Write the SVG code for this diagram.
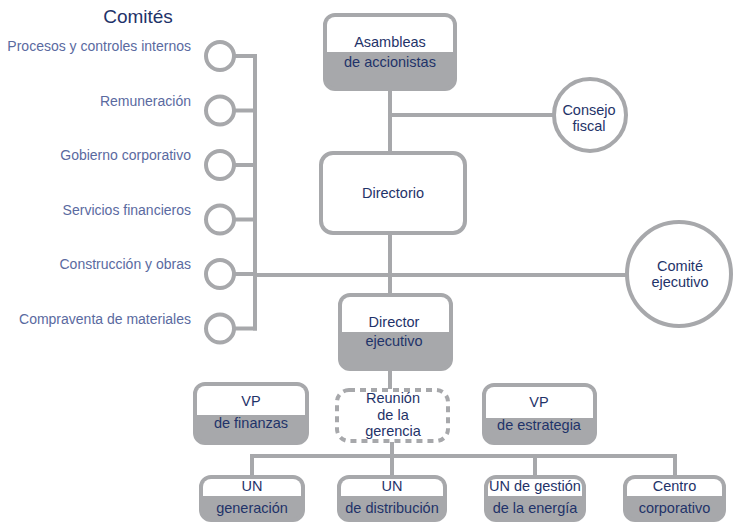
<svg xmlns="http://www.w3.org/2000/svg" width="734" height="524" viewBox="0 0 734 524">
<style>
.ln{stroke:#a7a8ab;stroke-width:4;fill:none}
.bx{stroke:#a7a8ab;stroke-width:4;fill:#a7a8ab}
.wb{stroke:#a7a8ab;stroke-width:4;fill:#ffffff}
.wf{fill:#ffffff}
.t{font-family:"Liberation Sans",Arial,sans-serif;font-size:14.5px;fill:#1f3369;text-anchor:middle}
.c{font-family:"Liberation Sans",Arial,sans-serif;font-size:14px;fill:#5a6a9f;text-anchor:end}
.h{font-family:"Liberation Sans",Arial,sans-serif;font-size:19px;fill:#1f3369;text-anchor:middle}
.dash{stroke:#a7a8ab;stroke-width:4;fill:#ffffff;stroke-dasharray:6 5}
</style>
<g id="connectors">
<line class="ln" x1="390" y1="90" x2="390" y2="153"/>
<line class="ln" x1="390" y1="115" x2="555" y2="115"/>
<line class="ln" x1="390" y1="234" x2="390" y2="294"/>
<line class="ln" x1="255" y1="275" x2="628" y2="275"/>
<line class="ln" x1="255" y1="54" x2="255" y2="330.5"/>
<line class="ln" x1="234" y1="56" x2="257" y2="56"/>
<line class="ln" x1="234" y1="110.5" x2="257" y2="110.5"/>
<line class="ln" x1="234" y1="165" x2="257" y2="165"/>
<line class="ln" x1="234" y1="219.5" x2="257" y2="219.5"/>
<line class="ln" x1="234" y1="274" x2="257" y2="274"/>
<line class="ln" x1="234" y1="328.5" x2="257" y2="328.5"/>
<line class="ln" x1="390" y1="370" x2="390" y2="389"/>
<line class="ln" x1="392" y1="442" x2="392" y2="456"/>
<line class="ln" x1="252" y1="456" x2="675" y2="456"/>
<line class="ln" x1="252" y1="454" x2="252" y2="476"/>
<line class="ln" x1="392" y1="454" x2="392" y2="476"/>
<line class="ln" x1="535" y1="454" x2="535" y2="476"/>
<line class="ln" x1="675" y1="454" x2="675" y2="476"/>
</g>
<g id="comites-title"><text class="h" x="138" y="23">Comités</text></g>
<g id="comite-procesos"><circle class="wb" cx="220" cy="56" r="14"/><text class="c" x="191" y="51">Procesos y controles internos</text></g>
<g id="comite-remuneracion"><circle class="wb" cx="220" cy="110.5" r="14"/><text class="c" x="191" y="105.5">Remuneración</text></g>
<g id="comite-gobierno"><circle class="wb" cx="220" cy="165" r="14"/><text class="c" x="191" y="160">Gobierno corporativo</text></g>
<g id="comite-servicios"><circle class="wb" cx="220" cy="219.5" r="14"/><text class="c" x="191" y="214.5">Servicios financieros</text></g>
<g id="comite-construccion"><circle class="wb" cx="220" cy="274" r="14"/><text class="c" x="191" y="269">Construcción y obras</text></g>
<g id="comite-compraventa"><circle class="wb" cx="220" cy="328.5" r="14"/><text class="c" x="191" y="323.5">Compraventa de materiales</text></g>
<g id="asambleas">
<rect class="bx" x="325" y="15" width="130" height="74" rx="10"/>
<path class="wf" d="M327,52 V25 A8 8 0 0 1 335,17 H445 A8 8 0 0 1 453,25 V52 Z"/>
<text class="t" x="390" y="47">Asambleas</text>
<text class="t" x="390" y="67">de accionistas</text>
</g>
<g id="consejo-fiscal">
<circle class="wb" cx="590" cy="115" r="36"/>
<text class="t" x="589" y="115">Consejo</text>
<text class="t" x="589" y="131">fiscal</text>
</g>
<g id="directorio">
<rect class="wb" x="321" y="153" width="144" height="80" rx="12"/>
<text class="t" x="393" y="198">Directorio</text>
</g>
<g id="comite-ejecutivo">
<circle class="wb" cx="679" cy="274" r="52"/>
<text class="t" x="680" y="271">Comité</text>
<text class="t" x="680" y="287">ejecutivo</text>
</g>
<g id="director-ejecutivo">
<rect class="bx" x="340" y="295" width="111" height="74" rx="10"/>
<path class="wf" d="M342,332 V305 A8 8 0 0 1 350,297 H441 A8 8 0 0 1 449,305 V332 Z"/>
<text class="t" x="394" y="327">Director</text>
<text class="t" x="394" y="346">ejecutivo</text>
</g>
<g id="vp-finanzas">
<rect class="bx" x="195" y="384" width="112" height="59" rx="10"/>
<path class="wf" d="M197,415 V394 A8 8 0 0 1 205,386 H297 A8 8 0 0 1 305,394 V415 Z"/>
<text class="t" x="251" y="406">VP</text>
<text class="t" x="251" y="428">de finanzas</text>
</g>
<g id="reunion-gerencia">
<rect class="dash" x="337" y="390" width="111" height="51" rx="12"/>
<text class="t" x="393" y="403">Reunión</text>
<text class="t" x="393" y="420">de la</text>
<text class="t" x="393" y="436">gerencia</text>
</g>
<g id="vp-estrategia">
<rect class="bx" x="484" y="385" width="111" height="58" rx="10"/>
<path class="wf" d="M486,418 V395 A8 8 0 0 1 494,387 H585 A8 8 0 0 1 593,395 V418 Z"/>
<text class="t" x="539" y="407">VP</text>
<text class="t" x="539" y="430">de estrategia</text>
</g>
<g id="un-generacion">
<rect class="bx" x="201" y="477" width="102" height="43" rx="10"/>
<path class="wf" d="M203,496 V487 A8 8 0 0 1 211,479 H293 A8 8 0 0 1 301,487 V496 Z"/>
<text class="t" x="252" y="491">UN</text>
<text class="t" x="252" y="513">generación</text>
</g>
<g id="un-distribucion">
<rect class="bx" x="339" y="477" width="106" height="43" rx="10"/>
<path class="wf" d="M341,496 V487 A8 8 0 0 1 349,479 H435 A8 8 0 0 1 443,487 V496 Z"/>
<text class="t" x="392" y="491">UN</text>
<text class="t" x="392" y="513">de distribución</text>
</g>
<g id="un-gestion">
<rect class="bx" x="486" y="477" width="98" height="43" rx="10"/>
<path class="wf" d="M488,496 V487 A8 8 0 0 1 496,479 H574 A8 8 0 0 1 582,487 V496 Z"/>
<text class="t" x="535" y="491">UN de gestión</text>
<text class="t" x="535" y="513">de la energía</text>
</g>
<g id="centro-corporativo">
<rect class="bx" x="625" y="477" width="99" height="43" rx="10"/>
<path class="wf" d="M627,496 V487 A8 8 0 0 1 635,479 H714 A8 8 0 0 1 722,487 V496 Z"/>
<text class="t" x="674.5" y="491">Centro</text>
<text class="t" x="674.5" y="513">corporativo</text>
</g>
</svg>
